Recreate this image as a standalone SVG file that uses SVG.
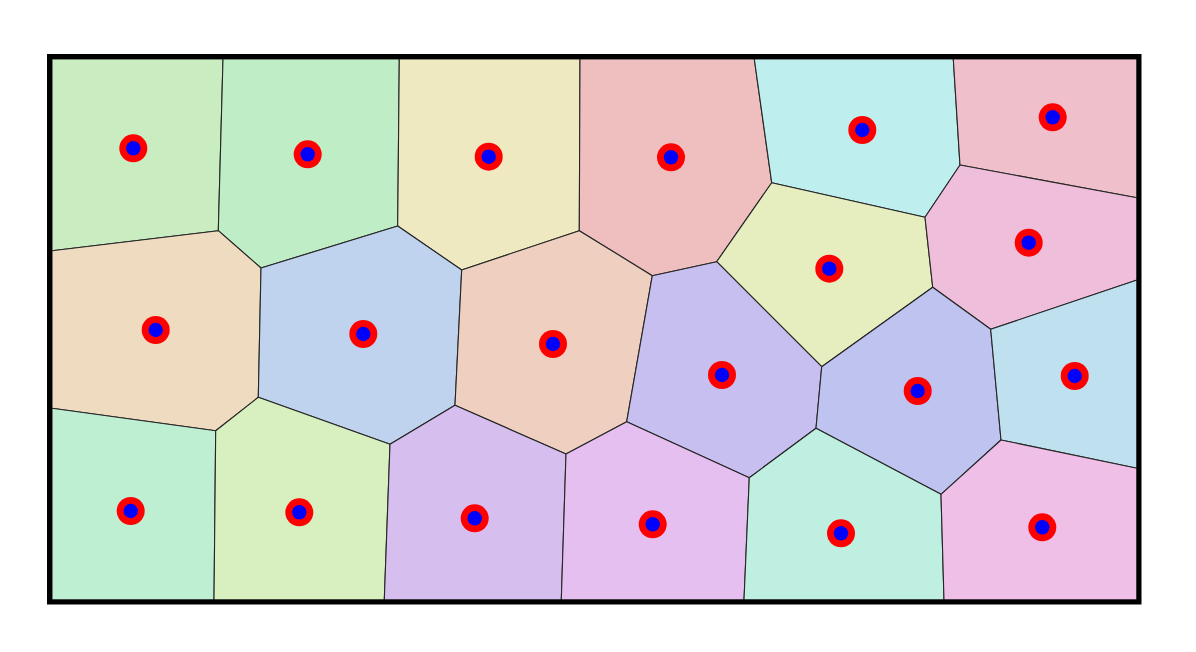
<svg xmlns="http://www.w3.org/2000/svg" xmlns:xlink="http://www.w3.org/1999/xlink" width="1196" height="652" viewBox="0 0 1196 652">
<style>
.cell{stroke:#262626;stroke-width:1.1;stroke-linejoin:round}
.frame{fill:none;stroke:#000;stroke-width:5}
</style>
<defs>
<g id="seed">
<circle r="14" fill="#ff0000"/>
<circle r="7.2" fill="#0000ff"/>
</g>
</defs>
<rect width="1196" height="652" fill="#ffffff"/>
<g id="cells">
<g id="cell-a"><polygon class="cell" fill="#c9edc0" points="52,59 223,59 218.3,230.7 52,250.7"/><use xlink:href="#seed" x="133.3" y="148.3"/></g>
<g id="cell-b"><polygon class="cell" fill="#bfeec6" points="223,59 399.3,59 397.7,226 261,268 218.3,230.7"/><use xlink:href="#seed" x="307.7" y="154.3"/></g>
<g id="cell-c"><polygon class="cell" fill="#efe9c1" points="399.3,59 580,59 579.3,230.7 461.7,270 397.7,226"/><use xlink:href="#seed" x="488.7" y="156.7"/></g>
<g id="cell-d"><polygon class="cell" fill="#efbfbf" points="580,59 754.3,59 771.7,182.7 716.7,261.7 652.3,275.7 579.3,230.7"/><use xlink:href="#seed" x="671" y="157.3"/></g>
<g id="cell-e"><polygon class="cell" fill="#bfeeee" points="754.3,59 953.3,59 960,165 925,217.3 771.7,182.7"/><use xlink:href="#seed" x="862.3" y="130"/></g>
<g id="cell-f"><polygon class="cell" fill="#efbfcb" points="953.3,59 1137,59 1137,197.7 960,165"/><use xlink:href="#seed" x="1052.7" y="117.3"/></g>
<g id="cell-g"><polygon class="cell" fill="#e6eec0" points="771.7,182.7 925,217.3 932.7,287.3 821.7,366.7 716.7,261.7"/><use xlink:href="#seed" x="829.3" y="268.7"/></g>
<g id="cell-h"><polygon class="cell" fill="#efbedb" points="960,165 1137,197.7 1137,280 990.7,329.3 932.7,287.3 925,217.3"/><use xlink:href="#seed" x="1028.7" y="242.7"/></g>
<g id="cell-i"><polygon class="cell" fill="#efdbbf" points="52,250.7 218.3,230.7 261,268 258.3,397.3 215.7,430.7 52,408.3"/><use xlink:href="#seed" x="155.7" y="330"/></g>
<g id="cell-j"><polygon class="cell" fill="#bfd3ef" points="261,268 397.7,226 461.7,270 455,405.3 390,444.3 258.3,397.3"/><use xlink:href="#seed" x="363.3" y="334"/></g>
<g id="cell-k"><polygon class="cell" fill="#efcfbf" points="461.7,270 579.3,230.7 652.3,275.7 626.7,421.7 566,454 455,405.3"/><use xlink:href="#seed" x="553" y="344"/></g>
<g id="cell-l"><polygon class="cell" fill="#c7bfef" points="652.3,275.7 716.7,261.7 821.7,366.7 816,428.3 749.3,477.7 626.7,421.7"/><use xlink:href="#seed" x="722" y="375"/></g>
<g id="cell-m"><polygon class="cell" fill="#bfc3ef" points="821.7,366.7 932.7,287.3 990.7,329.3 1001,440 941,494.3 816,428.3"/><use xlink:href="#seed" x="917.7" y="391"/></g>
<g id="cell-n"><polygon class="cell" fill="#bfe0ef" points="990.7,329.3 1137,280 1137,468.3 1001,440"/><use xlink:href="#seed" x="1074.7" y="376"/></g>
<g id="cell-o"><polygon class="cell" fill="#bfefd3" points="52,408.3 215.7,430.7 214,600 52,600"/><use xlink:href="#seed" x="130.7" y="511"/></g>
<g id="cell-p"><polygon class="cell" fill="#d8efbf" points="215.7,430.7 258.3,397.3 390,444.3 384.3,600 214,600"/><use xlink:href="#seed" x="299.3" y="512.3"/></g>
<g id="cell-q"><polygon class="cell" fill="#d6bfef" points="390,444.3 455,405.3 566,454 561.3,600 384.3,600"/><use xlink:href="#seed" x="474.7" y="518.3"/></g>
<g id="cell-r"><polygon class="cell" fill="#e5bfef" points="566,454 626.7,421.7 749.3,477.7 744,600 561.3,600"/><use xlink:href="#seed" x="652.7" y="524.3"/></g>
<g id="cell-s"><polygon class="cell" fill="#bfefe0" points="749.3,477.7 816,428.3 941,494.3 944,600 744,600"/><use xlink:href="#seed" x="841" y="533.3"/></g>
<g id="cell-t"><polygon class="cell" fill="#efbfe8" points="941,494.3 1001,440 1137,468.3 1137,600 944,600"/><use xlink:href="#seed" x="1042.3" y="527.3"/></g>
</g>
<g id="connectors"></g>
<rect class="frame" x="49.5" y="56.5" width="1089.5" height="545.5"/>
</svg>
